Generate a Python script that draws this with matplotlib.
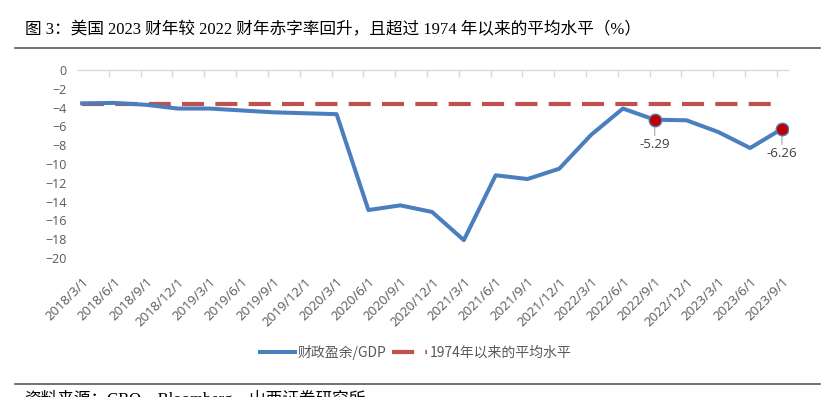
import matplotlib.pyplot as plt
from matplotlib.ticker import FixedLocator
import numpy as np

dates = ['2018/3/1', '2018/6/1', '2018/9/1', '2018/12/1', '2019/3/1', '2019/6/1',
         '2019/9/1', '2019/12/1', '2020/3/1', '2020/6/1', '2020/9/1', '2020/12/1',
         '2021/3/1', '2021/6/1', '2021/9/1', '2021/12/1', '2022/3/1', '2022/6/1',
         '2022/9/1', '2022/12/1', '2023/3/1', '2023/6/1', '2023/9/1']
surplus = [-3.55, -3.5, -3.7, -4.1, -4.1, -4.3, -4.5, -4.6, -4.7, -14.9, -14.4, -15.1,
           -18.1, -11.2, -11.6, -10.5, -6.9, -4.1, -5.29, -5.35, -6.6, -8.3, -6.26]
avg_since_1974 = [-3.65] * len(dates)
highlight = [18, 22]

title = '图 3：美国 2023 财年较 2022 财年赤字率回升，且超过 1974 年以来的平均水平（%）'
source = '资料来源：CBO，Bloomberg，山西证券研究所'

W, H = 833, 397
blue = '#4a7ebf'
red = '#c0504d'
grey = '#595959'

fig = plt.figure(figsize=(W / 100, H / 100), dpi=100)
ax = fig.add_axes([78 / W, 1 - 258 / H, 710 / W, 188 / H])

x = np.arange(len(dates))
ax.plot(x, surplus, color=blue, lw=2.9, label='财政盈余/GDP', zorder=3)
ax.plot(x, avg_since_1974, color=red, lw=3, dashes=(5.3, 2.7),
        label='1974年以来的平均水平', zorder=2)

hx = [x[i] for i in highlight]
hy = [surplus[i] for i in highlight]
ax.plot(hx, hy, ls='none', marker='o', ms=9, mfc='#c00000', mec=blue, mew=1, zorder=4)
for xi, yi in zip(hx, hy):
    ax.annotate(f'{yi:.2f}', xy=(xi, yi), xytext=(0, -18), textcoords='offset points',
                ha='center', va='center', fontsize=9.5, color='#404040', family='Open Sans',
                arrowprops=dict(arrowstyle='-', color='#a6a6a6', lw=0.8,
                                shrinkA=0, shrinkB=0))

ax.set_xlim(-0.13, len(dates) - 1 + 0.19)
ax.set_ylim(-20, 0)
ax.set_yticks(np.arange(-20, 1, 2))
for s in ['left', 'right', 'bottom']:
    ax.spines[s].set_visible(False)
ax.spines['top'].set_color('#d9d9d9')
ax.spines['top'].set_linewidth(1)

ax.set_xticks(x)
ax.set_xticklabels(dates, rotation=45, ha='right', va='top', rotation_mode='anchor',
                   fontsize=9.5, color=grey, family='Open Sans')
ax.xaxis.set_minor_locator(FixedLocator(x - 0.16))
ax.tick_params(axis='x', which='major', length=0, pad=12.5, bottom=True, top=False)
ax.tick_params(axis='x', which='minor', top=True, bottom=False, direction='in',
               length=5, color='#d9d9d9', width=1)

ax.tick_params(axis='y', length=0, pad=8, labelsize=9, labelcolor=grey)
for lab in ax.get_yticklabels():
    lab.set_family('Open Sans')

leg = fig.legend(loc='center', bbox_to_anchor=(416 / W, 1 - 352 / H), ncol=2,
                 frameon=False, handlelength=2.5, handletextpad=0.2, columnspacing=0.4,
                 prop={'family': 'Noto Sans CJK SC', 'size': 10})
for t in leg.get_texts():
    t.set_color(grey)

fig.text(25 / W, 1 - 30 / H, title, ha='left', va='center', fontsize=12,
         family=['Liberation Serif', 'Noto Sans CJK SC'], color='black')
fig.add_artist(plt.Line2D([15 / W, 820 / W], [1 - 48 / H, 1 - 48 / H],
                          color='#595959', lw=1.2))
fig.add_artist(plt.Line2D([15 / W, 820 / W], [1 - 384 / H, 1 - 384 / H],
                          color='#595959', lw=1.2))
fig.text(24 / W, 1 - 390 / H, source, ha='left', va='top', fontsize=12,
         family=['Liberation Serif', 'Noto Sans CJK SC'], color='black')

fig.savefig('out.png', dpi=100)
